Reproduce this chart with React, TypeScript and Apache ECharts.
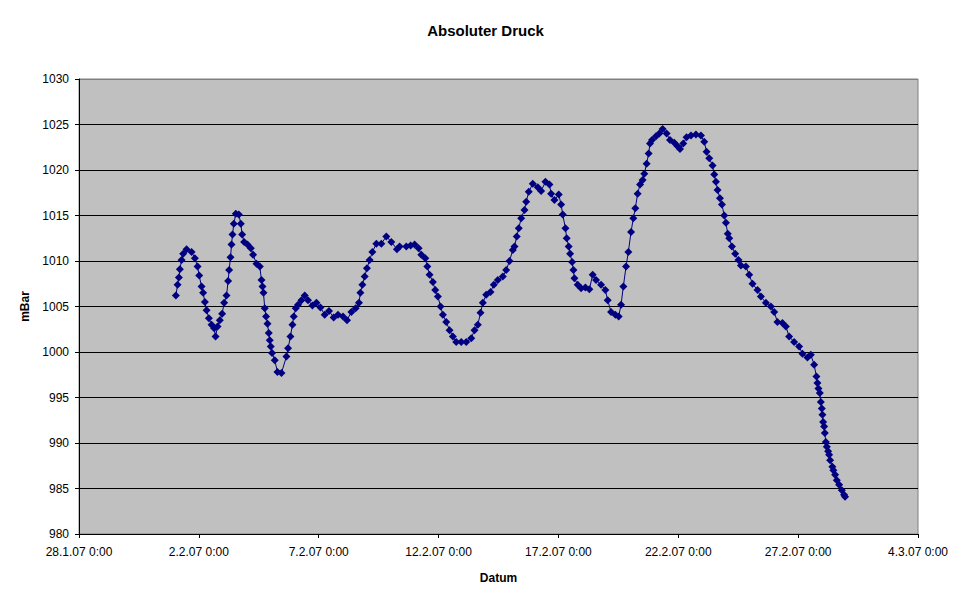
import { useEffect, useRef } from "react";
import * as echarts from "echarts";

// x = hours since 28.1.07 0:00
const hoursSinceStart = [
  97, 98.7, 100, 101, 102.7, 104.3, 107.7, 112.7, 116, 118.7,
  120.3, 122.7, 124.3, 126, 127.7, 130, 132.7, 135.3, 136.7, 138.7,
  141, 143.3, 145.3, 147.7, 149.3, 150.3, 151.7, 152.7, 153.7, 155,
  157, 160, 162, 163.3, 165.3, 168.7, 172, 174.3, 177.7, 181,
  182.7, 183.7, 184.7, 186, 187.3, 188.7, 190, 191, 192, 193.3,
  196, 198.7, 202.7, 207.7, 209.3, 211.7, 213.7, 215, 217, 219.3,
  222.7, 226, 229.3, 233.7, 237.7, 241.7, 246, 250.3, 255, 259.3,
  264.3, 268.3, 272.7, 277, 280.3, 281.7, 283.7, 286, 288.3, 291,
  293.7, 297.7, 302.7, 307.7, 312.7, 318.3, 321, 327.7, 332, 336,
  340, 342.7, 346.7, 348.7, 351, 354.3, 356.7, 359.3, 362, 364.3,
  367.7, 371, 374.3, 377.7, 382.7, 387.7, 392.7, 396, 399.3, 402,
  404.3, 407.7, 412, 415.3, 419.3, 424.3, 427.7, 431, 434.3, 436,
  438.3, 440.3, 442.7, 446, 447.7, 450.3, 454.3, 459.3, 462.7, 467,
  471, 472.7, 476, 480.3, 482.7, 484.3, 487, 488.3, 490.3, 491.7,
  493.7, 495, 496, 499.3, 502.7, 507, 511, 514.3, 517.7, 522.7,
  527, 529.3, 532.7, 537, 540.3, 542.7, 545, 547.7, 550, 552.7,
  555, 557, 559.3, 561.7, 564.3, 566, 568.3, 570.3, 571.7, 573.7,
  577.7, 581, 584.3, 588.3, 591.7, 596, 599.3, 601.7, 605, 608.3,
  612.7, 617.7, 622.7, 626, 628.3, 631, 634.3, 636, 637.7, 639.3,
  641.7, 643.7, 646, 647.7, 649.5, 651, 653.7, 657, 660.3, 662.7,
  667.7, 671, 674.3, 679.3, 682.7, 687.7, 692.7, 696, 699.3, 704.3,
  707.7, 711, 716, 721, 724.3, 729.3, 732.7, 736, 738.3, 739.3,
  740.3, 741.7, 742.7, 743.7, 744.3, 745, 746, 746.7, 747.7, 748.7,
  750, 751, 752, 754.3, 755.3, 757, 758.7, 761, 763.7, 766,
  767,
];

const pressureMbar = [
  1006.2, 1007.4, 1008.2, 1009.1, 1010.1, 1010.8, 1011.3, 1011.0, 1010.3, 1009.4,
  1008.4, 1007.2, 1006.5, 1005.5, 1004.6, 1003.7, 1003.0, 1002.6, 1001.7, 1002.8,
  1003.5, 1004.2, 1005.4, 1006.2, 1007.8, 1009.0, 1010.4, 1011.8, 1012.9, 1014.1,
  1015.2, 1015.1, 1014.1, 1012.9, 1012.1, 1011.8, 1011.4, 1010.7, 1009.7, 1009.4,
  1007.9, 1007.2, 1006.5, 1004.8, 1003.9, 1003.1, 1002.1, 1001.3, 1000.6, 999.9,
  999.1, 997.8, 997.7, 999.5, 1000.4, 1001.7, 1003.0, 1003.9, 1004.8, 1005.2,
  1005.7, 1006.2, 1005.7, 1005.1, 1005.4, 1004.9, 1004.1, 1004.5, 1003.8, 1004.1,
  1003.9, 1003.5, 1004.4, 1004.8, 1005.4, 1006.5, 1007.4, 1008.3, 1009.2, 1010.1,
  1011.0, 1011.9, 1011.9, 1012.7, 1012.1, 1011.3, 1011.6, 1011.6, 1011.7, 1011.8,
  1011.4, 1010.7, 1010.3, 1009.4, 1008.5, 1007.7, 1006.8, 1006.1, 1005.0, 1004.1,
  1003.3, 1002.4, 1001.7, 1001.1, 1001.1, 1001.1, 1001.5, 1002.4, 1003.0, 1004.3,
  1005.4, 1006.3, 1006.6, 1007.4, 1007.9, 1008.3, 1009.0, 1010.0, 1011.2, 1011.6,
  1012.7, 1013.6, 1014.7, 1015.6, 1016.5, 1017.6, 1018.5, 1018.1, 1017.7, 1018.7,
  1018.4, 1017.4, 1016.7, 1017.3, 1016.2, 1015.1, 1013.6, 1012.5, 1011.6, 1010.8,
  1009.9, 1009.0, 1008.1, 1007.4, 1007.0, 1007.1, 1006.9, 1008.5, 1007.9, 1007.4,
  1006.8, 1005.7, 1004.4, 1004.1, 1003.9, 1005.2, 1007.2, 1009.4, 1011.0, 1013.2,
  1014.7, 1015.8, 1017.4, 1018.4, 1018.9, 1019.6, 1020.7, 1021.8, 1022.9, 1023.3,
  1023.7, 1024.0, 1024.5, 1024.0, 1023.3, 1023.0, 1022.6, 1022.3, 1022.9, 1023.6,
  1023.8, 1023.9, 1023.8, 1023.1, 1022.0, 1021.3, 1020.5, 1019.5, 1018.7, 1017.8,
  1016.9, 1016.2, 1015.0, 1014.2, 1013.0, 1012.5, 1011.6, 1010.8, 1010.1, 1009.5,
  1009.4, 1008.5, 1007.5, 1006.8, 1006.1, 1005.4, 1005.0, 1004.4, 1003.3, 1003.2,
  1002.8, 1001.7, 1001.1, 1000.6, 999.8, 999.4, 999.7, 998.6, 997.3, 996.6,
  996.0, 995.5, 994.5, 993.8, 993.1, 992.3, 991.8, 991.1, 990.1, 989.6,
  989.1, 988.7, 988.1, 987.4, 987.0, 986.5, 985.9, 985.4, 984.8, 984.3,
  984.1,
];

const xTickLabels = [
  "28.1.07 0:00", "2.2.07 0:00", "7.2.07 0:00", "12.2.07 0:00",
  "17.2.07 0:00", "22.2.07 0:00", "27.2.07 0:00", "4.3.07 0:00",
];

const FONT = "'Liberation Sans', Arial, sans-serif";

export default function App() {
  const ref = useRef<HTMLDivElement>(null);

  useEffect(() => {
    if (!ref.current) return;
    const chart = echarts.init(ref.current, undefined, { renderer: "svg" });
    const data = hoursSinceStart.map((h, i) => [h, pressureMbar[i]]);
    const splitColors = Array.from({ length: 11 }, (_, i) => (i === 10 ? "#808080" : "#000000"));
    chart.setOption({
      animation: false,
      backgroundColor: "#ffffff",
      textStyle: { fontFamily: FONT },
      title: {
        text: "Absoluter Druck",
        left: "center",
        top: 18,
        textStyle: { fontFamily: FONT, fontSize: 15, fontWeight: "bold", color: "#000" },
      },
      grid: {
        left: 79,
        top: 79,
        right: 53,
        bottom: 70,
        show: true,
        backgroundColor: "#C0C0C0",
        borderColor: "#808080",
        borderWidth: 1,
        containLabel: false,
      },
      xAxis: {
        type: "value",
        min: 0,
        max: 840,
        interval: 120,
        name: "Datum",
        nameLocation: "middle",
        nameGap: 38,
        nameTextStyle: { fontFamily: FONT, fontSize: 12, fontWeight: "bold", color: "#000" },
        axisLine: { show: true, onZero: false, lineStyle: { color: "#000", width: 1 } },
        axisTick: { show: true, inside: false, length: 4, lineStyle: { color: "#000" } },
        axisLabel: {
          fontFamily: FONT,
          fontSize: 12,
          color: "#000",
          margin: 12,
          formatter: (v: number) => xTickLabels[Math.round(v / 120)] ?? "",
        },
        splitLine: { show: false },
      },
      yAxis: {
        type: "value",
        min: 980,
        max: 1030,
        interval: 5,
        name: "mBar",
        nameLocation: "middle",
        nameGap: 42,
        nameRotate: 90,
        nameTextStyle: { fontFamily: FONT, fontSize: 12, fontWeight: "bold", color: "#000" },
        axisLine: { show: true, lineStyle: { color: "#000", width: 1 } },
        axisTick: { show: true, inside: false, length: 4, lineStyle: { color: "#000" } },
        axisLabel: {
          fontFamily: FONT,
          fontSize: 12,
          color: "#000",
          margin: 10,
          formatter: (v: number) => String(v),
        },
        splitLine: { show: true, lineStyle: { color: splitColors, width: 1 } },
      },
      series: [
        {
          type: "line",
          data,
          symbol: "diamond",
          symbolSize: 8,
          showAllSymbol: true,
          itemStyle: { color: "#000080" },
          lineStyle: { color: "#000080", width: 1 },
        },
      ],
    });
    return () => chart.dispose();
  }, []);

  return (
    <div
      ref={ref}
      style={{ position: "fixed", left: 0, top: 0, width: 971, height: 604 }}
    />
  );
}
